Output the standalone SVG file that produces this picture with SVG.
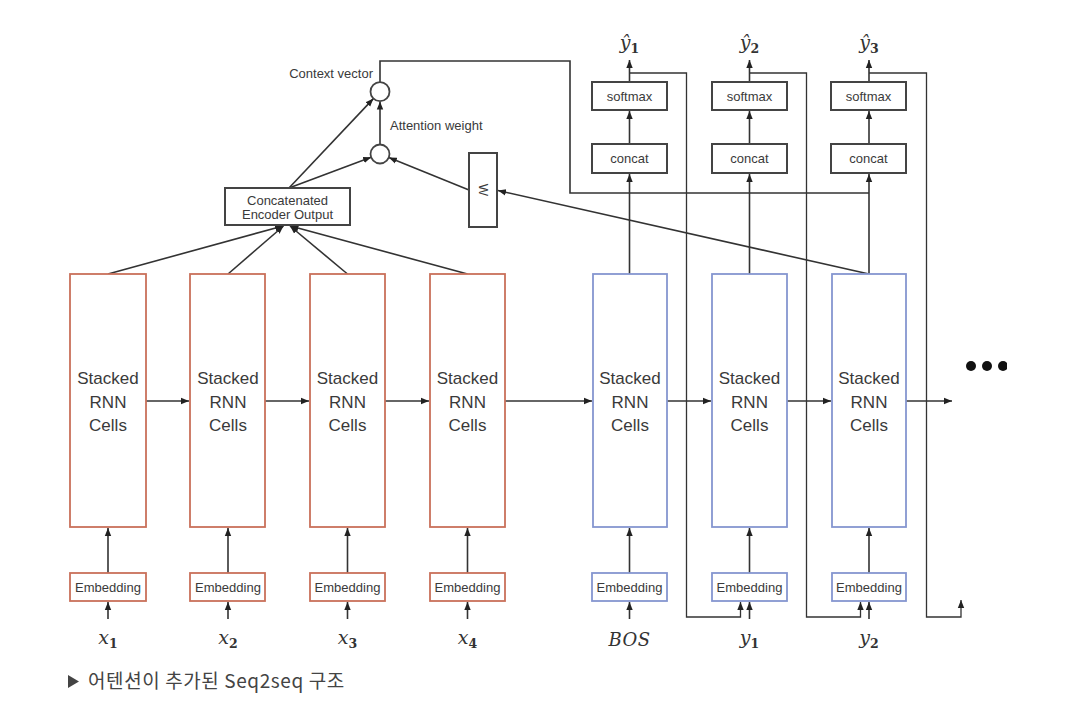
<svg xmlns="http://www.w3.org/2000/svg" width="1066" height="722" viewBox="0 0 1066 722">
<style>
.t{font-family:"Liberation Sans",Arial,sans-serif;fill:#3a3a3a}
.cell{font-size:17px}
.sm{font-size:13px}
.math{font-family:"DejaVu Serif","Liberation Serif",serif;font-style:italic;fill:#333}
.sub{font-size:12.5px;font-style:normal;font-weight:bold}
.enc{fill:#fff;stroke:#c9705a;stroke-width:1.8}
.dec{fill:#fff;stroke:#8596d0;stroke-width:1.8}
.box{fill:#fff;stroke:#444;stroke-width:2}
.ln{fill:none;stroke:#333;stroke-width:1.6}
.thin{fill:none;stroke:#333;stroke-width:1.3}
.ar{marker-end:url(#ah)}
</style>
<defs>
<marker id="ah" markerUnits="userSpaceOnUse" markerWidth="8" markerHeight="8" viewBox="0 0 8 8" refX="8" refY="4" orient="auto">
<path d="M0,0.8 L8,4 L0,7.2 Z" fill="#222"/>
</marker>
<clipPath id="clipdots"><rect x="950" y="350" width="57" height="30"/></clipPath>
</defs>
<rect width="1066" height="722" fill="#fff"/>

<g id="connectors">
<path class="ln ar" d="M108,573 V528"/>
<path class="ln ar" d="M228,573 V528"/>
<path class="ln ar" d="M347.5,573 V528"/>
<path class="ln ar" d="M467.5,573 V528"/>
<path class="ln ar" d="M108,619 V602"/>
<path class="ln ar" d="M228,619 V602"/>
<path class="ln ar" d="M347.5,619 V602"/>
<path class="ln ar" d="M467.5,619 V602"/>
<path class="ln ar" d="M629.5,619 V602"/>
<path class="ln ar" d="M749.5,619 V602"/>
<path class="ln ar" d="M869,619 V602"/>
<path class="ln ar" d="M629.5,573 V528"/>
<path class="ln ar" d="M749.5,573 V528"/>
<path class="ln ar" d="M869,573 V528"/>
<path class="ln ar" d="M146,401 H189"/>
<path class="ln ar" d="M265,401 H309"/>
<path class="ln ar" d="M385,401 H429"/>
<path class="ln ar" d="M505,401 H592"/>
<path class="ln ar" d="M667,401 H711"/>
<path class="ln ar" d="M787,401 H831"/>
<path class="ln ar" d="M906,401 H952"/>
<path class="ln ar" d="M108,274 L283,226"/>
<path class="ln ar" d="M228,274 L283.5,226"/>
<path class="ln ar" d="M347.5,274 L290,226"/>
<path class="ln ar" d="M467.5,274 L290.5,226"/>
<path class="ln ar" d="M289,188 L373.4,98.6"/>
<path class="ln ar" d="M289,188 L371.1,157.2"/>
<path class="ln ar" d="M380,144.5 V101.5"/>
<path class="ln ar" d="M469,190 L388.8,157.6"/>
<path class="ln ar" d="M869,274 L498,190.5"/>
<path class="ln" d="M380,82 V61 H570 V193 H869"/>
<path class="ln ar" d="M629.5,274 V174"/>
<path class="ln ar" d="M749.5,274 V174"/>
<path class="ln ar" d="M869,274 V174"/>
<path class="ln ar" d="M629.5,144 V111"/>
<path class="ln ar" d="M749.5,144 V111"/>
<path class="ln ar" d="M869,144 V111"/>
<path class="ln ar" d="M629.5,82 V60"/>
<path class="ln ar" d="M749.5,82 V60"/>
<path class="ln ar" d="M869,82 V60"/>
<path class="thin ar" d="M629.5,73 H686.5 V617 H740.5 V602"/>
<path class="thin ar" d="M749.5,73 H806.5 V617 H860.5 V602"/>
<path class="thin ar" d="M869,73 H926.5 V617 H961 V600"/>
</g>

<g id="enc1"><rect class="enc" x="70" y="274" width="76" height="253"/>
<text class="t cell" text-anchor="middle" x="108" y="384">Stacked</text><text class="t cell" text-anchor="middle" x="108" y="408">RNN</text><text class="t cell" text-anchor="middle" x="108" y="431">Cells</text></g>
<g id="enc2"><rect class="enc" x="190" y="274" width="75" height="253"/>
<text class="t cell" text-anchor="middle" x="228" y="384">Stacked</text><text class="t cell" text-anchor="middle" x="228" y="408">RNN</text><text class="t cell" text-anchor="middle" x="228" y="431">Cells</text></g>
<g id="enc3"><rect class="enc" x="310" y="274" width="75" height="253"/>
<text class="t cell" text-anchor="middle" x="347.5" y="384">Stacked</text><text class="t cell" text-anchor="middle" x="347.5" y="408">RNN</text><text class="t cell" text-anchor="middle" x="347.5" y="431">Cells</text></g>
<g id="enc4"><rect class="enc" x="430" y="274" width="75" height="253"/>
<text class="t cell" text-anchor="middle" x="467.5" y="384">Stacked</text><text class="t cell" text-anchor="middle" x="467.5" y="408">RNN</text><text class="t cell" text-anchor="middle" x="467.5" y="431">Cells</text></g>
<g id="dec1"><rect class="dec" x="593" y="274" width="74" height="253"/>
<text class="t cell" text-anchor="middle" x="630" y="384">Stacked</text><text class="t cell" text-anchor="middle" x="630" y="408">RNN</text><text class="t cell" text-anchor="middle" x="630" y="431">Cells</text></g>
<g id="dec2"><rect class="dec" x="712" y="274" width="75" height="253"/>
<text class="t cell" text-anchor="middle" x="749.5" y="384">Stacked</text><text class="t cell" text-anchor="middle" x="749.5" y="408">RNN</text><text class="t cell" text-anchor="middle" x="749.5" y="431">Cells</text></g>
<g id="dec3"><rect class="dec" x="832" y="274" width="74" height="253"/>
<text class="t cell" text-anchor="middle" x="869" y="384">Stacked</text><text class="t cell" text-anchor="middle" x="869" y="408">RNN</text><text class="t cell" text-anchor="middle" x="869" y="431">Cells</text></g>

<g id="emb-enc1"><rect class="enc" x="70" y="573" width="76" height="28"/><text class="t sm" text-anchor="middle" x="108" y="592">Embedding</text></g>
<g id="emb-enc2"><rect class="enc" x="190" y="573" width="75" height="28"/><text class="t sm" text-anchor="middle" x="228" y="592">Embedding</text></g>
<g id="emb-enc3"><rect class="enc" x="310" y="573" width="75" height="28"/><text class="t sm" text-anchor="middle" x="347.5" y="592">Embedding</text></g>
<g id="emb-enc4"><rect class="enc" x="430" y="573" width="75" height="28"/><text class="t sm" text-anchor="middle" x="467.5" y="592">Embedding</text></g>
<g id="emb-dec1"><rect class="dec" x="592" y="573" width="75" height="28"/><text class="t sm" text-anchor="middle" x="629.5" y="592">Embedding</text></g>
<g id="emb-dec2"><rect class="dec" x="712" y="573" width="75" height="28"/><text class="t sm" text-anchor="middle" x="749.5" y="592">Embedding</text></g>
<g id="emb-dec3"><rect class="dec" x="832" y="573" width="74" height="28"/><text class="t sm" text-anchor="middle" x="869" y="592">Embedding</text></g>

<g id="concat1"><rect class="box" x="592" y="144" width="75" height="29"/><text class="t sm" text-anchor="middle" x="629.5" y="163">concat</text></g>
<g id="concat2"><rect class="box" x="712" y="144" width="75" height="29"/><text class="t sm" text-anchor="middle" x="749.5" y="163">concat</text></g>
<g id="concat3"><rect class="box" x="831" y="144" width="75" height="29"/><text class="t sm" text-anchor="middle" x="868.5" y="163">concat</text></g>
<g id="softmax1"><rect class="box" x="592" y="82" width="75" height="28"/><text class="t sm" text-anchor="middle" x="629.5" y="101">softmax</text></g>
<g id="softmax2"><rect class="box" x="712" y="82" width="75" height="28"/><text class="t sm" text-anchor="middle" x="749.5" y="101">softmax</text></g>
<g id="softmax3"><rect class="box" x="831" y="82" width="75" height="28"/><text class="t sm" text-anchor="middle" x="868.5" y="101">softmax</text></g>

<g id="concat-enc"><rect class="box" x="225" y="188" width="125" height="37"/>
<text class="t sm" text-anchor="middle" x="287.5" y="205">Concatenated</text><text class="t sm" text-anchor="middle" x="287.5" y="219">Encoder Output</text></g>
<g id="w"><rect class="box" x="469" y="153" width="28" height="74"/>
<text class="t sm" text-anchor="middle" transform="translate(483,190) rotate(90)" y="4.5">W</text></g>
<g id="context"><circle cx="380" cy="91.7" r="9.5" fill="#fff" stroke="#444" stroke-width="1.8"/>
<text class="t sm" text-anchor="end" x="373" y="78">Context vector</text></g>
<g id="attention"><circle cx="380" cy="154" r="9.5" fill="#fff" stroke="#444" stroke-width="1.8"/>
<text class="t sm" x="390" y="130">Attention weight</text></g>

<g id="labels">
<text class="math" font-size="19" text-anchor="middle" x="108" y="644">x<tspan class="sub" dy="4">1</tspan></text>
<text class="math" font-size="19" text-anchor="middle" x="228" y="644">x<tspan class="sub" dy="4">2</tspan></text>
<text class="math" font-size="19" text-anchor="middle" x="347.5" y="644">x<tspan class="sub" dy="4">3</tspan></text>
<text class="math" font-size="19" text-anchor="middle" x="467.5" y="644">x<tspan class="sub" dy="4">4</tspan></text>
<text class="math" font-size="18" text-anchor="middle" x="629.5" y="646" letter-spacing="0.5">BOS</text>
<text class="math" font-size="19" text-anchor="middle" x="749.5" y="644">y<tspan class="sub" dy="4">1</tspan></text>
<text class="math" font-size="19" text-anchor="middle" x="869" y="644">y<tspan class="sub" dy="4">2</tspan></text>
<text class="math" font-size="19" text-anchor="middle" x="629.5" y="49">ŷ<tspan class="sub" dy="4">1</tspan></text>
<text class="math" font-size="19" text-anchor="middle" x="749.5" y="49">ŷ<tspan class="sub" dy="4">2</tspan></text>
<text class="math" font-size="19" text-anchor="middle" x="869" y="49">ŷ<tspan class="sub" dy="4">3</tspan></text>
</g>

<g id="ellipsis" clip-path="url(#clipdots)" fill="#111">
<circle cx="971" cy="366" r="5"/><circle cx="987" cy="366" r="5"/><circle cx="1003" cy="366" r="5"/>
</g>

<g id="caption">
<path d="M68,675 L79,681.5 L68,688 Z" fill="#444"/>
<text x="88" y="688" font-family="'Noto Sans CJK KR','Noto Sans',sans-serif" font-size="19" letter-spacing="0.6" fill="#444">어텐션이 추가된 Seq2seq 구조</text>
</g>
</svg>
